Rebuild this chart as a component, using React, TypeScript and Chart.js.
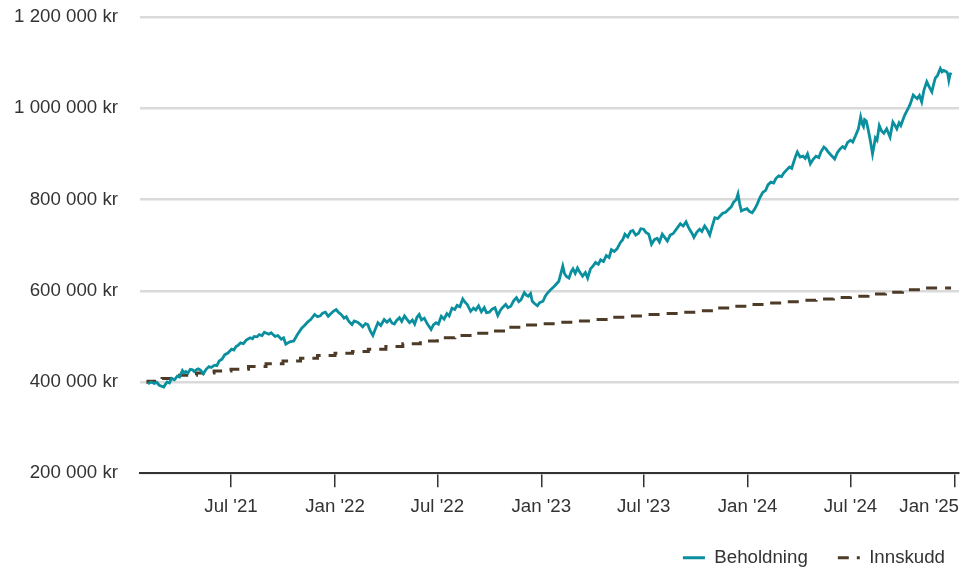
import React, { useEffect, useRef } from 'react';
import { Chart, registerables } from 'chart.js';

Chart.register(...registerables);

// Beholdning (holdings), year by year
const beholdningDates2021 = [
  '2021-02-04','2021-02-10','2021-02-15','2021-02-20','2021-02-24','2021-03-04','2021-03-08','2021-03-10','2021-03-14','2021-03-18',
  '2021-03-23','2021-03-28','2021-04-01','2021-04-06','2021-04-09','2021-04-12','2021-04-16','2021-04-20','2021-04-24','2021-04-27',
  '2021-05-01','2021-05-04','2021-05-08','2021-05-13','2021-05-18','2021-05-23','2021-05-27','2021-06-02','2021-06-06','2021-06-10',
  '2021-06-15','2021-06-20','2021-06-25','2021-07-02','2021-07-06','2021-07-10','2021-07-14','2021-07-18','2021-07-23','2021-07-28',
  '2021-08-04','2021-08-08','2021-08-11','2021-08-16','2021-08-20','2021-08-25','2021-08-29','2021-09-02','2021-09-06','2021-09-10',
  '2021-09-17','2021-09-22','2021-09-28','2021-10-02','2021-10-06','2021-10-13','2021-10-20','2021-10-26','2021-11-03','2021-11-08',
  '2021-11-14','2021-11-19','2021-11-26','2021-12-01','2021-12-06','2021-12-10','2021-12-15','2021-12-20','2021-12-24','2021-12-29',
];
const beholdningValues2021 = [
  396000, 400000, 397000, 399000, 393000, 389000, 397000, 400000, 398000, 408000,
  405000, 413000, 411000, 425000, 420000, 423000, 420000, 428000, 427000, 423000,
  427000, 429000, 426000, 418000, 428000, 434000, 432000, 437000, 436000, 446000,
  450000, 460000, 463000, 472000, 470000, 478000, 481000, 486000, 484000, 492000,
  497000, 495000, 500000, 499000, 504000, 502000, 509000, 507000, 505000, 508000,
  500000, 502000, 494000, 497000, 483000, 488000, 490000, 503000, 518000, 524000,
  532000, 537000, 548000, 543000, 545000, 551000, 553000, 544000, 549000, 555000,
];

const beholdningDates2022 = [
  '2022-01-03','2022-01-07','2022-01-10','2022-01-14','2022-01-17','2022-01-21','2022-01-24','2022-01-27','2022-01-31','2022-02-04',
  '2022-02-10','2022-02-15','2022-02-19','2022-02-24','2022-02-28','2022-03-04','2022-03-09','2022-03-13','2022-03-18','2022-03-23',
  '2022-03-29','2022-04-03','2022-04-08','2022-04-12','2022-04-16','2022-04-20','2022-04-25','2022-04-29','2022-05-04','2022-05-08',
  '2022-05-13','2022-05-18','2022-05-22','2022-05-26','2022-05-30','2022-06-03','2022-06-08','2022-06-13','2022-06-20','2022-06-24',
  '2022-06-29','2022-07-03','2022-07-08','2022-07-13','2022-07-18','2022-07-22','2022-07-27','2022-08-01','2022-08-05','2022-08-10',
  '2022-08-15','2022-08-19','2022-08-23','2022-08-29','2022-09-03','2022-09-07','2022-09-12','2022-09-17','2022-09-22','2022-09-26',
  '2022-10-01','2022-10-06','2022-10-11','2022-10-16','2022-10-21','2022-10-25','2022-10-30','2022-11-03','2022-11-08','2022-11-13',
  '2022-11-18','2022-11-22','2022-11-26','2022-12-02','2022-12-06','2022-12-09','2022-12-13','2022-12-16','2022-12-20','2022-12-25',
  '2022-12-29',
];
const beholdningValues2022 = [
  559000, 553000, 550000, 545000, 540000, 543000, 536000, 531000, 526000, 534000,
  531000, 526000, 521000, 528000, 526000, 513000, 502000, 515000, 530000, 524000,
  537000, 531000, 537000, 529000, 527000, 535000, 541000, 533000, 545000, 538000,
  530000, 536000, 527000, 542000, 548000, 536000, 540000, 528000, 515000, 525000,
  530000, 527000, 544000, 538000, 550000, 545000, 562000, 559000, 568000, 565000,
  582000, 575000, 570000, 555000, 562000, 558000, 567000, 554000, 563000, 552000,
  553000, 560000, 563000, 546000, 558000, 564000, 570000, 563000, 566000, 578000,
  585000, 576000, 580000, 596000, 590000, 588000, 594000, 577000, 572000, 567000,
  574000,
];

const beholdningDates2023 = [
  '2023-01-04','2023-01-08','2023-01-12','2023-01-18','2023-01-24','2023-02-01','2023-02-05','2023-02-08','2023-02-11','2023-02-14',
  '2023-02-19','2023-02-23','2023-02-26','2023-03-02','2023-03-06','2023-03-10','2023-03-15','2023-03-20','2023-03-24','2023-03-29',
  '2023-04-03','2023-04-07','2023-04-12','2023-04-16','2023-04-21','2023-04-26','2023-05-01','2023-05-05','2023-05-10','2023-05-15',
  '2023-05-21','2023-05-25','2023-05-29','2023-06-03','2023-06-08','2023-06-12','2023-06-17','2023-06-22','2023-06-26','2023-07-01',
  '2023-07-05','2023-07-10','2023-07-15','2023-07-20','2023-07-25','2023-07-29','2023-08-03','2023-08-08','2023-08-12','2023-08-17',
  '2023-08-22','2023-08-28','2023-09-04','2023-09-09','2023-09-14','2023-09-18','2023-09-21','2023-09-25','2023-09-28','2023-10-03',
  '2023-10-08','2023-10-12','2023-10-17','2023-10-21','2023-10-26','2023-10-30','2023-11-04','2023-11-09','2023-11-14','2023-11-18',
  '2023-11-23','2023-11-28','2023-12-03','2023-12-07','2023-12-12','2023-12-15','2023-12-18','2023-12-21','2023-12-26','2023-12-31',
];
const beholdningValues2023 = [
  577000, 588000, 595000, 603000, 610000, 621000, 640000, 654000, 638000, 632000,
  628000, 642000, 648000, 638000, 650000, 641000, 632000, 640000, 628000, 648000,
  655000, 662000, 658000, 668000, 664000, 677000, 673000, 690000, 686000, 692000,
  706000, 712000, 724000, 718000, 730000, 732000, 722000, 726000, 736000, 735000,
  728000, 724000, 702000, 712000, 715000, 707000, 724000, 716000, 709000, 722000,
  725000, 735000, 747000, 742000, 751000, 740000, 733000, 725000, 717000, 728000,
  735000, 730000, 742000, 735000, 722000, 740000, 760000, 758000, 765000, 770000,
  772000, 778000, 784000, 794000, 800000, 812000, 790000, 775000, 778000, 780000,
];

const beholdningDates2024 = [
  '2024-01-04','2024-01-09','2024-01-13','2024-01-18','2024-01-23','2024-01-28','2024-02-02','2024-02-06','2024-02-11','2024-02-16',
  '2024-02-20','2024-02-25','2024-03-01','2024-03-05','2024-03-10','2024-03-15','2024-03-19','2024-03-22','2024-03-26','2024-03-29',
  '2024-04-03','2024-04-08','2024-04-12','2024-04-16','2024-04-21','2024-04-26','2024-05-01','2024-05-06','2024-05-10','2024-05-15',
  '2024-05-18','2024-05-22','2024-05-27','2024-06-03','2024-06-08','2024-06-12','2024-06-17','2024-06-21','2024-06-26','2024-07-01',
  '2024-07-05','2024-07-10','2024-07-15','2024-07-19','2024-07-22','2024-07-24','2024-07-26','2024-07-29','2024-08-01','2024-08-05',
  '2024-08-09','2024-08-12','2024-08-14','2024-08-17','2024-08-21','2024-08-25','2024-08-29','2024-09-03','2024-09-09','2024-09-14',
  '2024-09-18','2024-09-21','2024-09-25','2024-09-28','2024-10-01','2024-10-05','2024-10-09','2024-10-12','2024-10-15','2024-10-20',
  '2024-10-24','2024-10-27','2024-10-31','2024-11-04','2024-11-08','2024-11-13','2024-11-18','2024-11-22','2024-11-25','2024-11-28',
  '2024-12-02','2024-12-07','2024-12-10','2024-12-13','2024-12-18','2024-12-20','2024-12-22','2024-12-24','2024-12-26',
];
const beholdningValues2024 = [
  774000, 771000, 778000, 790000, 805000, 816000, 820000, 832000, 838000, 836000,
  846000, 852000, 850000, 858000, 865000, 871000, 868000, 880000, 895000, 904000,
  893000, 895000, 890000, 900000, 878000, 888000, 895000, 892000, 905000, 915000,
  912000, 905000, 898000, 889000, 903000, 910000, 916000, 912000, 925000, 930000,
  926000, 940000, 955000, 981000, 965000, 960000, 975000, 972000, 955000, 930000,
  900000, 920000, 935000, 930000, 962000, 950000, 945000, 955000, 937000, 970000,
  962000, 955000, 968000, 962000, 972000, 985000, 995000, 1002000, 1010000, 1029000,
  1024000, 1021000, 1028000, 1014000, 1040000, 1058000, 1045000, 1036000, 1052000, 1066000,
  1072000, 1087000, 1080000, 1083000, 1080000, 1076000, 1061000, 1073000, 1078000,
];

const beholdningDates = [...beholdningDates2021, ...beholdningDates2022, ...beholdningDates2023, ...beholdningDates2024];
const beholdningValues = [...beholdningValues2021, ...beholdningValues2022, ...beholdningValues2023, ...beholdningValues2024];

// Innskudd (deposits), a step line
const innskuddDates = [
  '2021-02-04','2021-03-01','2021-04-01','2021-05-01','2021-06-01','2021-07-01','2021-08-01','2021-09-01','2021-10-01','2021-11-01',
  '2021-12-01','2022-01-01','2022-02-01','2022-03-01','2022-04-01','2022-05-01','2022-06-01','2022-07-01','2022-08-01','2022-09-01',
  '2022-10-01','2022-11-01','2022-12-01','2023-01-01','2023-02-01','2023-03-01','2023-04-01','2023-05-01','2023-06-01','2023-07-01',
  '2023-08-01','2023-09-01','2023-10-01','2023-11-01','2023-12-01','2024-01-01','2024-02-01','2024-03-01','2024-04-01','2024-05-01',
  '2024-06-01','2024-07-01','2024-08-01','2024-09-01','2024-10-01','2024-11-01','2024-12-01','2024-12-26',
];
const innskuddValues = [
  396000, 402000, 408000, 415000, 420000, 424000, 428000, 434000, 440000, 446000,
  452000, 458000, 463000, 467000, 472000, 478000, 484000, 490000, 497000, 502000,
  507000, 512000, 520000, 525000, 528000, 531000, 534000, 537000, 542000, 545000,
  548000, 550000, 553000, 556000, 562000, 566000, 570000, 573000, 576000, 579000,
  582000, 585000, 588000, 593000, 597000, 602000, 606000, 606000,
];

const tickDates = ['2021-07-01','2022-01-01','2022-07-01','2023-01-01','2023-07-01','2024-01-01','2024-07-01','2025-01-01'];
const tickLabels = ["Jul '21", "Jan '22", "Jul '22", "Jan '23", "Jul '23", "Jan '24", "Jul '24", "Jan '25"];

const yMin = 200000;
const yMax = 1200000;
const yStep = 200000;

const seriesNames = ['Beholdning', 'Innskudd'];

const FONT = '"Liberation Sans", Arial, Helvetica, sans-serif';
const FONT_SIZE = 18.7;
const TEXT = '#333333';

const EPOCH = Date.parse('2021-01-01');
const dayOf = (s: string) => (Date.parse(s) - EPOCH) / 864e5;

const fmtKr = (v: number) => String(Math.round(v)).replace(/\B(?=(\d{3})+(?!\d))/g, ' ') + ' kr';

const xLabelPlugin = {
  id: 'xLabels',
  afterDraw(chart: any) {
    const { ctx, chartArea, scales } = chart;
    const x = scales.x;
    ctx.save();
    ctx.font = `${FONT_SIZE}px ${FONT}`;
    ctx.fillStyle = TEXT;
    ctx.textBaseline = 'middle';
    ctx.textAlign = 'left';
    tickDates.forEach((d, i) => {
      const px = x.getPixelForValue(dayOf(d));
      const w = ctx.measureText(tickLabels[i]).width;
      let left = px - w / 2;
      if (left + w > chartArea.right) left = chartArea.right - w;
      ctx.fillText(tickLabels[i], left, chartArea.bottom + 34);
    });
    ctx.restore();
  },
};

export default function App() {
  const ref = useRef<HTMLCanvasElement | null>(null);

  useEffect(() => {
    if (!ref.current) return;
    Chart.defaults.font.family = FONT;
    const firstDay = dayOf(beholdningDates[0]);
    const lastDay = dayOf(beholdningDates[beholdningDates.length - 1]);
    const chart = new Chart(ref.current, {
      type: 'line',
      data: {
        datasets: [
          {
            label: seriesNames[0],
            data: beholdningDates.map((d, i) => ({ x: dayOf(d), y: beholdningValues[i] })),
            borderColor: '#0a8f9e',
            backgroundColor: '#0a8f9e',
            borderWidth: 2.8,
            pointRadius: 0,
            tension: 0,
          },
          {
            label: seriesNames[1],
            data: innskuddDates.map((d, i) => ({ x: dayOf(d), y: innskuddValues[i] })),
            borderColor: '#4d3b27',
            backgroundColor: '#4d3b27',
            borderWidth: 3,
            borderDash: [11, 8],
            stepped: 'after',
            pointRadius: 0,
          },
        ],
      },
      options: {
        animation: false,
        responsive: true,
        maintainAspectRatio: false,
        events: [],
        layout: { padding: { top: 17, left: 0, right: -4, bottom: -2 } },
        plugins: {
          tooltip: { enabled: false },
          legend: {
            position: 'bottom',
            align: 'end',
            labels: {
              usePointStyle: true,
              pointStyle: 'line',
              pointStyleWidth: 22,
              padding: 30,
              color: TEXT,
              font: { size: FONT_SIZE, family: FONT },
              generateLabels: (chart: any) =>
                chart.data.datasets.map((ds: any, i: number) => ({
                  text: ds.label,
                  datasetIndex: i,
                  fillStyle: ds.borderColor,
                  strokeStyle: ds.borderColor,
                  lineWidth: 3,
                  lineDash: ds.borderDash || [],
                  lineCap: 'butt',
                  pointStyle: 'line',
                  fontColor: TEXT,
                  hidden: false,
                })),
            },
          },
        },
        scales: {
          x: {
            type: 'linear',
            min: firstDay - 14,
            max: lastDay + 14,
            afterBuildTicks: (s: any) => {
              s.ticks = tickDates.map((d) => ({ value: dayOf(d) }));
            },
            afterFit: (s: any) => {
              s.height = 45;
              s.paddingRight = 12;
              s.paddingLeft = 0;
            },
            ticks: { display: false },
            grid: { drawOnChartArea: false, drawTicks: true, tickLength: 14, color: '#333333', lineWidth: 1.5 },
            border: { display: true, color: '#333333', width: 2 },
          },
          y: {
            min: yMin,
            max: yMax,
            afterFit: (s: any) => {
              s.width = 140;
              s.paddingTop = 0;
              s.paddingBottom = 0;
            },
            ticks: {
              stepSize: yStep,
              padding: 22,
              color: TEXT,
              font: { size: FONT_SIZE, family: FONT },
              callback: (v: any) => fmtKr(Number(v)),
            },
            grid: { color: '#dadada', lineWidth: 2.5, drawTicks: false },
            border: { display: false },
          },
        },
      },
      plugins: [xLabelPlugin],
    } as any);
    return () => chart.destroy();
  }, []);

  return (
    <div style={{ position: 'fixed', left: 0, top: 0, width: 971, height: 575, background: '#ffffff' }}>
      <canvas ref={ref} />
    </div>
  );
}
